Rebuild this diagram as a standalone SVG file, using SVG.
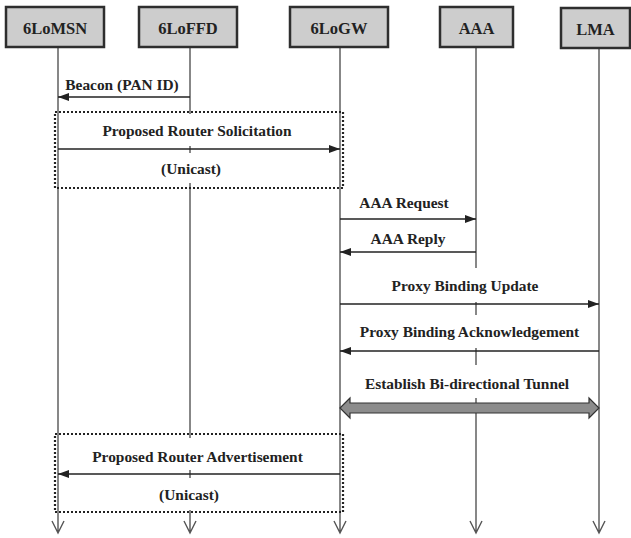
<svg xmlns="http://www.w3.org/2000/svg" width="631" height="538" viewBox="0 0 631 538">
<style>
.box{fill:#cdcdcd;stroke:#2e2e2e;stroke-width:2.5}
.nl{font-family:"Liberation Serif","Times New Roman",serif;font-weight:bold;font-size:16.5px;fill:#222;text-anchor:middle}
.life{stroke:#555;stroke-width:1.4;fill:none}
.msg{stroke:#222;stroke-width:1.4;fill:none;marker-end:url(#ah)}
.lbl{font-family:"Liberation Serif","Times New Roman",serif;font-weight:bold;font-size:15.4px;fill:#222;text-anchor:middle}
.bg{fill:#fff}
.dot{fill:none;stroke:#222;stroke-width:2.2;stroke-dasharray:2 2}
</style>
<defs>
<marker id="ah" markerUnits="userSpaceOnUse" markerWidth="12" markerHeight="10" refX="11" refY="4" orient="auto">
<path d="M0,0 L11,4 L0,8 Z" fill="#222"/>
</marker>
</defs>
<rect width="631" height="538" fill="#fff"/>
<g id="lifelines">
<path class="life" d="M58,47 V533 M52,521 L58,533 L64,521"/>
<path class="life" d="M190,47 V533 M184,521 L190,533 L196,521"/>
<path class="life" d="M340,47 V533 M334,521 L340,533 L346,521"/>
<path class="life" d="M476,47 V533 M470,521 L476,533 L482,521"/>
<path class="life" d="M599,48 V533 M593,521 L599,533 L605,521"/>
</g>
<g id="n-6LoMSN"><rect class="box" x="6" y="7" width="98" height="40"/><text class="nl" x="55" y="34">6LoMSN</text></g>
<g id="n-6LoFFD"><rect class="box" x="139" y="7" width="98" height="40"/><text class="nl" x="188" y="34">6LoFFD</text></g>
<g id="n-6LoGW"><rect class="box" x="290" y="7" width="98" height="40"/><text class="nl" x="339" y="34">6LoGW</text></g>
<g id="n-AAA"><rect class="box" x="440" y="7" width="73" height="40"/><text class="nl" x="476.500" y="34">AAA</text></g>
<g id="n-LMA"><rect class="box" x="561" y="8" width="69" height="40"/><text class="nl" x="595.500" y="35">LMA</text></g>
<g id="label-bg">
<rect class="bg" x="100" y="114" width="194" height="32"/>
<rect class="bg" x="155" y="153" width="72" height="30"/>
<rect class="bg" x="388" y="268" width="154" height="34"/>
<rect class="bg" x="356" y="315" width="228" height="33"/>
<rect class="bg" x="360" y="365" width="214" height="33"/>
<rect class="bg" x="90" y="438" width="216" height="32"/>
<rect class="bg" x="155" y="478" width="72" height="32"/>
</g>
<g id="frames">
<rect class="dot" x="55" y="112" width="288" height="76"/>
<rect class="dot" x="55" y="434" width="288" height="78"/>
</g>
<g id="connectors">
<line class="msg" x1="190" y1="97" x2="58" y2="97"/>
<line class="msg" x1="58" y1="149" x2="340" y2="149"/>
<line class="msg" x1="340" y1="219" x2="476" y2="219"/>
<line class="msg" x1="476" y1="252" x2="340" y2="252"/>
<line class="msg" x1="340" y1="304" x2="599" y2="304"/>
<line class="msg" x1="599" y1="351" x2="340" y2="351"/>
<polygon points="340,408 350,398 350,403 589,403 589,398 599,408 589,418 589,413 350,413 350,418" fill="#8c8c8c" stroke="#333" stroke-width="1.2"/>
<line class="msg" x1="340" y1="474" x2="58" y2="474"/>
</g>
<g id="labels">
<text class="lbl" x="122" y="90">Beacon (PAN ID)</text>
<text class="lbl" x="197" y="136">Proposed Router Solicitation</text>
<text class="lbl" x="191" y="174">(Unicast)</text>
<text class="lbl" x="404" y="208">AAA Request</text>
<text class="lbl" x="408" y="244">AAA Reply</text>
<text class="lbl" x="465" y="291">Proxy Binding Update</text>
<text class="lbl" x="469.500" y="337">Proxy Binding Acknowledgement</text>
<text class="lbl" x="467" y="389">Establish Bi-directional Tunnel</text>
<text class="lbl" x="197.500" y="462">Proposed Router Advertisement</text>
<text class="lbl" x="189" y="500">(Unicast)</text>
</g>
</svg>
